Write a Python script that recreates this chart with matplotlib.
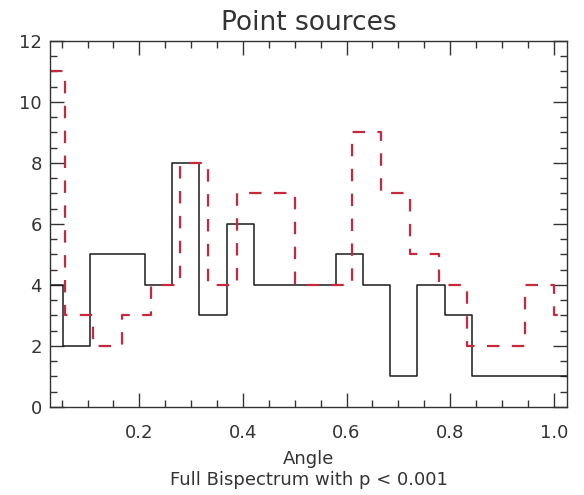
import numpy as np
import matplotlib
matplotlib.use("Agg")
import matplotlib.pyplot as plt
from matplotlib.ticker import MultipleLocator

# histogram values
black_counts = [4, 2, 5, 5, 4, 8, 3, 6, 4, 4, 4, 5, 4, 1, 4, 3, 1, 1, 1, 1]
red_counts = [11, 3, 2, 3, 4, 8, 4, 7, 7, 4, 4, 9, 7, 5, 4, 2, 2, 4, 3]

# bin centres
x_black = (np.arange(len(black_counts)) + 0.5) / 19.0
x_red = (np.arange(len(red_counts)) + 0.5) / 18.0

title = "Point sources"
xlabel = "Angle\nFull Bispectrum with p < 0.001"
xticks = [0.2, 0.4, 0.6, 0.8, 1.0]
yticks = [0, 2, 4, 6, 8, 10, 12]

fig = plt.figure(figsize=(5.84, 4.95), dpi=100)
ax = fig.add_axes([0.0856, 0.1778, 0.8853, 0.7394])

ax.step(x_black, black_counts, where="mid", color="#1a1a1a", lw=1.1)
ax.step(x_red, red_counts, where="mid", color="#c8283c", lw=1.6,
        linestyle=(0, (5.6, 5.6)))

ax.set_xlim(0.0275, 1.0257)
ax.set_ylim(0, 12)
ax.set_xticks(xticks)
ax.set_xticklabels(["%.1f" % t for t in xticks])
ax.set_yticks(yticks)
ax.xaxis.set_minor_locator(MultipleLocator(0.05))
ax.yaxis.set_minor_locator(MultipleLocator(0.5))

ax.tick_params(which="both", direction="in", top=True, right=True,
               color="#333333", labelsize=13, labelcolor="#333333")
ax.tick_params(which="major", length=10, width=1)
ax.tick_params(which="minor", length=5, width=1)
ax.tick_params(axis="x", pad=12)
ax.tick_params(axis="y", pad=6)
for s in ax.spines.values():
    s.set_color("#333333")
    s.set_linewidth(1.0)

ax.set_title(title, fontsize=19, color="#333333", pad=8)
ax.set_xlabel(xlabel, fontsize=13, color="#333333", linespacing=1.2, labelpad=6)

fig.savefig("out.png", dpi=100)
